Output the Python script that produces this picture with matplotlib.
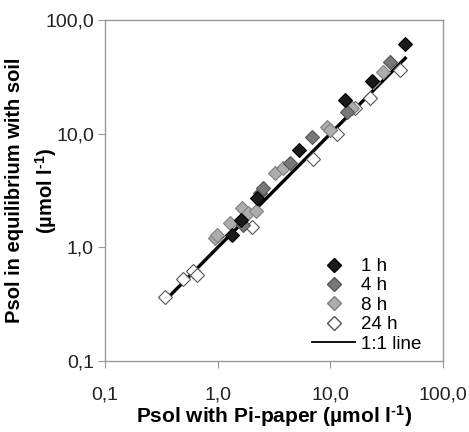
import matplotlib
matplotlib.use('Agg')
import matplotlib.pyplot as plt
import matplotlib.lines as mlines
from matplotlib.ticker import FixedLocator, FixedFormatter, NullLocator

plt.rcParams['font.family'] = ['Liberation Sans', 'DejaVu Sans']
plt.rcParams['mathtext.fontset'] = 'custom'
plt.rcParams['mathtext.rm'] = 'Liberation Sans:bold'
plt.rcParams['mathtext.default'] = 'rm'

# Psol with Pi-paper (x) vs Psol in equilibrium with soil (y), umol/l
x_1h = [1.34, 2.23, 5.26, 13.5, 23.4, 45.9, 1.6]
y_1h = [1.28, 2.7, 7.2, 19.8, 29.0, 61.5, 1.75]
x_4h = [1.67, 2.37, 2.5, 4.4, 6.9, 14.0, 33.8]
y_4h = [1.57, 3.0, 3.3, 5.5, 9.4, 15.5, 42.8]
x_8h = [0.95, 0.99, 1.29, 1.64, 1.86, 2.2, 3.2, 3.8, 9.3, 9.9, 15.6, 23.9, 29.3]
y_8h = [1.22, 1.29, 1.64, 2.2, 2.0, 2.1, 4.5, 5.0, 11.5, 10.7, 16.8, 28.5, 34.9]
x_24h = [0.34, 0.49, 0.60, 0.66, 0.98, 2.0, 7.0, 11.5, 16.5, 22.4, 41.5]
y_24h = [0.37, 0.53, 0.62, 0.57, 1.25, 1.52, 6.0, 9.9, 16.8, 20.6, 36.3]
line_x = [0.35, 46]
line_y = [0.35, 46]

ticks = [0.1, 1, 10, 100]
tick_labels = ['0,1', '1,0', '10,0', '100,0']

fig = plt.figure(figsize=(4.69, 4.32), dpi=100)
ax = fig.add_axes([0.224, 0.164, 0.721, 0.790])

ax.plot(line_x, line_y, color='black', lw=2.4, zorder=1)
ax.plot(x_24h, y_24h, 'D', ms=7, mfc='white', mec='#555555', mew=0.8, ls='none', zorder=2)
ax.plot(x_8h, y_8h, 'D', ms=7, mfc='#adadad', mec='#808080', mew=0.8, ls='none', zorder=3)
ax.plot(x_4h, y_4h, 'D', ms=7, mfc='#787878', mec='#555555', mew=0.8, ls='none', zorder=4)
ax.plot(x_1h, y_1h, 'D', ms=7, mfc='#1a1a1a', mec='black', mew=0.8, ls='none', zorder=5)

ax.set_xscale('log')
ax.set_yscale('log')
ax.set_xlim(0.1, 100)
ax.set_ylim(0.1, 100)
for axis in (ax.xaxis, ax.yaxis):
    axis.set_major_locator(FixedLocator(ticks))
    axis.set_major_formatter(FixedFormatter(tick_labels))
    axis.set_minor_locator(NullLocator())
ax.tick_params(direction='out', length=5, color='#999999', labelcolor='#222222',
               labelsize=14)
ax.tick_params(axis='x', pad=13)
ax.tick_params(axis='y', pad=3)
for s in ax.spines.values():
    s.set_color('#999999')
    s.set_linewidth(1.0)

ax.set_xlabel(r'Psol with Pi-paper (µmol l$^{\text{-}1}$)', fontsize=15, fontweight='bold',
              labelpad=0)
ax.set_ylabel('Psol in equilibrium with soil\n' + r'(µmol l$^{\text{-}1}$)', fontsize=14.5,
              fontweight='bold', linespacing=1.5)
ax.yaxis.set_label_coords(-0.135, 0.5)

h1 = mlines.Line2D([], [], marker='D', ls='none', ms=7, mfc='#1a1a1a', mec='black', label='1 h')
h4 = mlines.Line2D([], [], marker='D', ls='none', ms=7, mfc='#787878', mec='#555555', label='4 h')
h8 = mlines.Line2D([], [], marker='D', ls='none', ms=7, mfc='#adadad', mec='#808080', label='8 h')
h24 = mlines.Line2D([], [], marker='D', ls='none', ms=7, mfc='white', mec='#555555', label='24 h')
hl = mlines.Line2D([], [], color='black', lw=1.3, label='1:1 line')
ax.legend(handles=[h1, h4, h8, h24, hl], loc='lower right', frameon=False, fontsize=13.5,
          handlelength=2.3, handletextpad=0.3, labelspacing=0.12, borderpad=0,
          borderaxespad=0, bbox_to_anchor=(0.935, 0.025))

fig.savefig('out.png', dpi=100)
